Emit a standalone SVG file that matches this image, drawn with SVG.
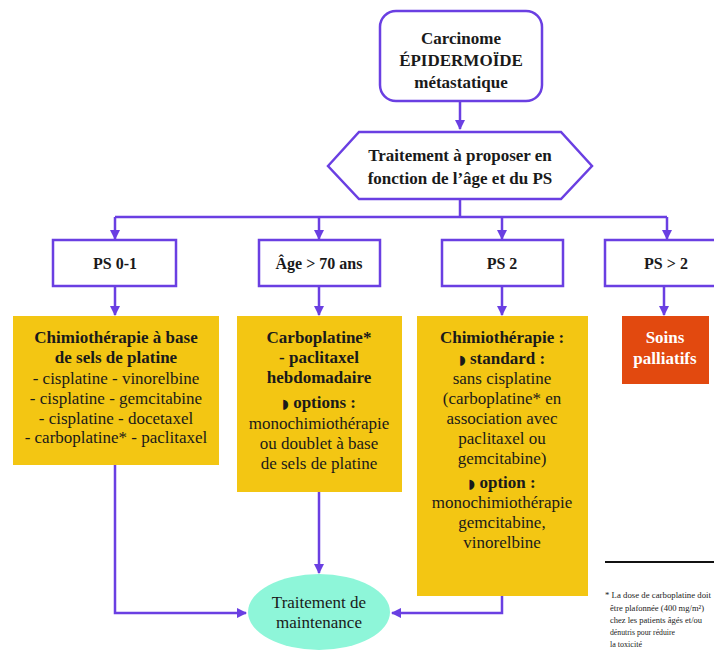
<svg xmlns="http://www.w3.org/2000/svg" width="714" height="652" viewBox="0 0 714 652">
<defs>
<marker id="ah" viewBox="0 0 10 10" refX="9" refY="5" markerWidth="4.2" markerHeight="4.2" orient="auto" markerUnits="strokeWidth">
<path d="M0,0 L10,5 L0,10 z" fill="#6a3fe2"/>
</marker>
<style>
.t{font-family:"Liberation Serif","Times New Roman",serif;fill:#1a1a1a;text-anchor:middle}
.b{font-weight:bold}
.s17{font-size:17px}
.s16{font-size:16px}
.bul{font-family:"DejaVu Sans",sans-serif;font-size:13px}
.pbox{fill:#fff;stroke:#6a3fe2;stroke-width:2.5}
.y{fill:#f3c613}
.c{fill:none;stroke:#6a3fe2;stroke-width:2.5}
.foot{font-family:"Liberation Serif","Times New Roman",serif;font-size:9px;fill:#1a1a1a}
</style>
</defs>
<rect width="714" height="652" fill="#fff"/>
<g id="connectors">
<path class="c" d="M460,101 V129" marker-end="url(#ah)"/>
<path class="c" d="M460,199 V217"/>
<path class="c" d="M115,217 H667"/>
<path class="c" d="M115,217 V239" marker-end="url(#ah)"/>
<path class="c" d="M319,217 V239" marker-end="url(#ah)"/>
<path class="c" d="M502,217 V239" marker-end="url(#ah)"/>
<path class="c" d="M667,217 V239" marker-end="url(#ah)"/>
<path class="c" d="M115,286 V315" marker-end="url(#ah)"/>
<path class="c" d="M319,286 V315" marker-end="url(#ah)"/>
<path class="c" d="M502,286 V315" marker-end="url(#ah)"/>
<path class="c" d="M664,286 V315" marker-end="url(#ah)"/>
<path class="c" d="M115,465 V613 H246" marker-end="url(#ah)"/>
<path class="c" d="M319,492 V573" marker-end="url(#ah)"/>
<path class="c" d="M502,596 V613 H392" marker-end="url(#ah)"/>
</g>
<g id="n-carcinome">
<rect class="pbox" x="380" y="11" width="162" height="90" rx="16"/>
<text class="t b s17" x="461" y="44">Carcinome</text>
<text class="t b s17" x="461" y="66">ÉPIDERMOÏDE</text>
<text class="t b s17" x="461" y="88">métastatique</text>
</g>
<g id="n-traitement">
<polygon class="pbox" points="328,166 359,132 561,132 592,166 561,199 359,199"/>
<text class="t b s17" x="460" y="161">Traitement à proposer en</text>
<text class="t b s17" x="460" y="184">fonction de l’âge et du PS</text>
</g>
<g id="n-ps01">
<rect class="pbox" x="53" y="240" width="123" height="46"/>
<text class="t b s16" x="115" y="269">PS 0-1</text>
</g>
<g id="n-age">
<rect class="pbox" x="259" y="240" width="121" height="46"/>
<text class="t b s16" x="319" y="269">Âge &gt; 70 ans</text>
</g>
<g id="n-ps2">
<rect class="pbox" x="442" y="240" width="121" height="46"/>
<text class="t b s16" x="502" y="269">PS 2</text>
</g>
<g id="n-ps3">
<rect class="pbox" x="605" y="240" width="124" height="46"/>
<text class="t b s16" x="666" y="269">PS &gt; 2</text>
</g>
<g id="n-chimio1">
<rect class="y" x="13" y="316" width="206" height="149"/>
<text class="t b s17" x="116" y="343">Chimiothérapie à base</text>
<text class="t b s17" x="116" y="363">de sels de platine</text>
<text class="t s17" x="116" y="384">- cisplatine - vinorelbine</text>
<text class="t s17" x="116" y="404">- cisplatine - gemcitabine</text>
<text class="t s17" x="116" y="424">- cisplatine - docetaxel</text>
<text class="t s17" x="116" y="443">- carboplatine* - paclitaxel</text>
</g>
<g id="n-carbo">
<rect class="y" x="237" y="316" width="165" height="176"/>
<text class="t b s17" x="319" y="343">Carboplatine*</text>
<text class="t b s17" x="319" y="363">- paclitaxel</text>
<text class="t b s17" x="319" y="383">hebdomadaire</text>
<text class="t b s17" x="319" y="408"><tspan class="bul">◗</tspan> options :</text>
<text class="t s17" x="319" y="429">monochimiothérapie</text>
<text class="t s17" x="319" y="449">ou doublet à base</text>
<text class="t s17" x="319" y="469">de sels de platine</text>
</g>
<g id="n-chimio2">
<rect class="y" x="417" y="316" width="171" height="280"/>
<text class="t b s17" x="502" y="343">Chimiothérapie :</text>
<text class="t b s17" x="502" y="364"><tspan class="bul">◗</tspan> standard :</text>
<text class="t s17" x="502" y="384">sans cisplatine</text>
<text class="t s17" x="502" y="404">(carboplatine* en</text>
<text class="t s17" x="502" y="424">association avec</text>
<text class="t s17" x="502" y="444">paclitaxel ou</text>
<text class="t s17" x="502" y="464">gemcitabine)</text>
<text class="t b s17" x="502" y="488"><tspan class="bul">◗</tspan> option :</text>
<text class="t s17" x="502" y="508">monochimiothérapie</text>
<text class="t s17" x="502" y="528">gemcitabine,</text>
<text class="t s17" x="502" y="548">vinorelbine</text>
</g>
<g id="n-soins">
<rect x="622" y="316" width="87" height="68" fill="#e2490f"/>
<text class="t b s17" x="665" y="343" style="fill:#fff">Soins</text>
<text class="t b s17" x="665" y="364" style="fill:#fff">palliatifs</text>
</g>
<g id="n-maintenance">
<ellipse cx="319" cy="612" rx="71" ry="38" fill="#8ef6d9"/>
<text class="t s17" x="319" y="608">Traitement de</text>
<text class="t s17" x="319" y="628">maintenance</text>
</g>
<g id="footnote">
<line x1="605" y1="562" x2="714" y2="562" stroke="#111" stroke-width="2"/>
<text class="foot" x="605" y="598" textLength="106" lengthAdjust="spacingAndGlyphs">* La dose de carboplatine doit</text>
<text class="foot" x="610" y="611" textLength="94" lengthAdjust="spacingAndGlyphs">être plafonnée (400 mg/m²)</text>
<text class="foot" x="610" y="623" textLength="92" lengthAdjust="spacingAndGlyphs">chez les patients âgés et/ou</text>
<text class="foot" x="610" y="635" textLength="65" lengthAdjust="spacingAndGlyphs">dénutris pour réduire</text>
<text class="foot" x="610" y="647" textLength="32" lengthAdjust="spacingAndGlyphs">la toxicité</text>
</g>
</svg>
